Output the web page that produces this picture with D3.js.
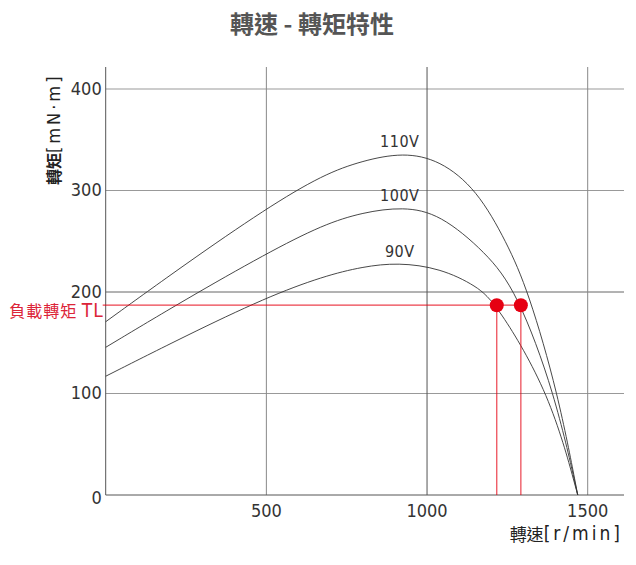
<!DOCTYPE html>
<html>
<head>
<meta charset="utf-8">
<script src="https://cdn.jsdelivr.net/npm/d3@7"></script>
<style>
  body { margin: 0; background: #fff; }
  svg { display: block; }
</style>
</head>
<body>
<svg id="chart" width="636" height="565"></svg>
<script>
// values
const rpm110 = [0, 250, 500, 677, 800, 926, 1040, 1155, 1248, 1315, 1408, 1469];
const tq110  = [170.7, 228, 282.5, 315.8, 329.5, 337.5, 330, 301, 249, 201, 100, 0];
const rpm100 = [0, 250, 500, 677, 800, 926, 1040, 1183, 1279, 1398, 1469];
const tq100  = [145.5, 193, 238, 266.5, 278.5, 284, 277, 239, 201, 100, 0];
const rpm90  = [0, 250, 500, 677, 800, 910, 1040, 1155, 1217, 1383, 1469];
const tq90   = [117, 157, 194.8, 215.5, 225, 229, 223.5, 206, 188, 100, 0];
const seriesNames = ["110V", "100V", "90V"];
const loadTorque = 187;
const loadRpm = [1217, 1292];
const xTicks = [500, 1000, 1500];
const yTicks = [0, 100, 200, 300, 400];

const series = [
  { name: seriesNames[0], rpm: rpm110, tq: tq110 },
  { name: seriesNames[1], rpm: rpm100, tq: tq100 },
  { name: seriesNames[2], rpm: rpm90, tq: tq90 }
];

const svg = d3.select("#chart");
const numFont = "'Liberation Sans Narrow', 'DejaVu Sans Condensed', sans-serif";
const cjkFont = "'Noto Sans CJK TC', 'Noto Sans CJK SC', sans-serif";

const x = d3.scaleLinear().domain([0, 1500]).range([105.7, 587.7]);
const y = d3.scaleLinear().domain([0, 400]).range([495, 89]);
const plotLeft = x(0), plotRight = 624, plotTop = 67, plotBottom = y(0);

// title
svg.append("text")
  .attr("x", 312).attr("y", 22.5)
  .attr("text-anchor", "middle")
  .attr("dominant-baseline", "central")
  .style("font-family", cjkFont)
  .style("font-weight", "bold")
  .style("font-size", "24px")
  .style("fill", "#555")
  .text("轉速 - 轉矩特性");

// grid
const grid = svg.append("g");
grid.selectAll("line.h").data(yTicks.filter(d => d > 0)).enter()
  .append("line").attr("class", "h")
  .attr("x1", plotLeft).attr("x2", plotRight)
  .attr("y1", d => y(d)).attr("y2", d => y(d))
  .attr("stroke", d => d === 200 ? "#666" : "#999")
  .attr("stroke-width", 1);
grid.selectAll("line.v").data(xTicks).enter()
  .append("line").attr("class", "v")
  .attr("x1", d => x(d)).attr("x2", d => x(d))
  .attr("y1", plotTop).attr("y2", plotBottom)
  .attr("stroke", d => d === 1000 ? "#555" : "#888")
  .attr("stroke-width", 1);

// axes lines
svg.append("line")
  .attr("x1", plotLeft).attr("x2", plotLeft)
  .attr("y1", plotTop).attr("y2", plotBottom)
  .attr("stroke", "#555");
svg.append("line")
  .attr("x1", plotLeft).attr("x2", plotRight)
  .attr("y1", plotBottom).attr("y2", plotBottom)
  .attr("stroke", "#555");

// tick labels
svg.append("g").selectAll("text").data(yTicks).enter()
  .append("text")
  .attr("x", plotLeft - 4)
  .attr("y", d => y(d) + (d === 0 ? 2 : -1))
  .attr("text-anchor", "end")
  .attr("dominant-baseline", "central")
  .style("font-family", numFont)
  .style("font-size", "18px")
  .style("fill", "#333")
  .text(d => d);
svg.append("g").selectAll("text").data(xTicks).enter()
  .append("text")
  .attr("x", d => x(d))
  .attr("y", plotBottom + 15)
  .attr("text-anchor", "middle")
  .attr("dominant-baseline", "central")
  .style("font-family", numFont)
  .style("font-size", "18px")
  .style("fill", "#333")
  .text(d => d);

// axis titles
const xt = svg.append("text")
  .attr("x", 623).attr("y", 533)
  .attr("text-anchor", "end")
  .attr("dominant-baseline", "central")
  .style("fill", "#222");
xt.append("tspan").style("font-family", cjkFont).style("font-size", "17px").text("轉速");
xt.append("tspan").style("font-family", numFont).style("font-size", "19px")
  .style("letter-spacing", "3px").text("[r/min]");

const yt = svg.append("text")
  .attr("transform", "translate(53,185) rotate(-90)")
  .attr("text-anchor", "start")
  .attr("dominant-baseline", "central")
  .style("fill", "#222");
yt.append("tspan").style("font-family", cjkFont).style("font-size", "16px")
  .style("font-weight", "bold").text("轉矩");
yt.append("tspan").style("font-family", numFont).style("font-size", "18px")
  .style("letter-spacing", "3px").text("[mN·m]");

// curves
const line = d3.line()
  .x(d => x(d[0]))
  .y(d => y(d[1]))
  .curve(d3.curveBasis);

svg.append("g").selectAll("path").data(series).enter()
  .append("path")
  .attr("d", s => line(s.rpm.map((r, i) => [r, s.tq[i]])))
  .attr("fill", "none")
  .attr("stroke", "#333")
  .attr("stroke-width", 0.9);

svg.append("g").selectAll("text").data(series).enter()
  .append("text")
  .attr("x", x(915))
  .attr("y", s => y(d3.max(s.tq)) - 11)
  .attr("text-anchor", "middle")
  .attr("dominant-baseline", "central")
  .style("font-family", numFont)
  .style("font-size", "16px")
  .style("letter-spacing", "0.5px")
  .style("fill", "#333")
  .text(s => s.name);

// load torque marker
const red = "#e60012";
svg.append("line")
  .attr("x1", plotLeft - 3).attr("x2", x(d3.max(loadRpm)))
  .attr("y1", y(loadTorque)).attr("y2", y(loadTorque))
  .attr("stroke", red).attr("stroke-opacity", 0.75).attr("stroke-width", 1.2);
svg.append("g").selectAll("line").data(loadRpm).enter()
  .append("line")
  .attr("x1", d => x(d)).attr("x2", d => x(d))
  .attr("y1", y(loadTorque)).attr("y2", plotBottom)
  .attr("stroke", red).attr("stroke-opacity", 0.75).attr("stroke-width", 1.2);
svg.append("g").selectAll("circle").data(loadRpm).enter()
  .append("circle")
  .attr("cx", d => x(d)).attr("cy", y(loadTorque))
  .attr("r", 7)
  .attr("fill", red);

svg.append("text")
  .attr("x", plotLeft - 2).attr("y", y(loadTorque) + 5)
  .attr("text-anchor", "end")
  .attr("dominant-baseline", "central")
  .style("fill", "#dc2438")
  .style("font-size", "16px")
  .style("letter-spacing", "1px")
  .call(t => {
    t.append("tspan").style("font-family", cjkFont).text("負載轉矩 ");
    t.append("tspan").style("font-family", numFont).style("font-size", "19px").text("TL");
  });
</script>
</body>
</html>
